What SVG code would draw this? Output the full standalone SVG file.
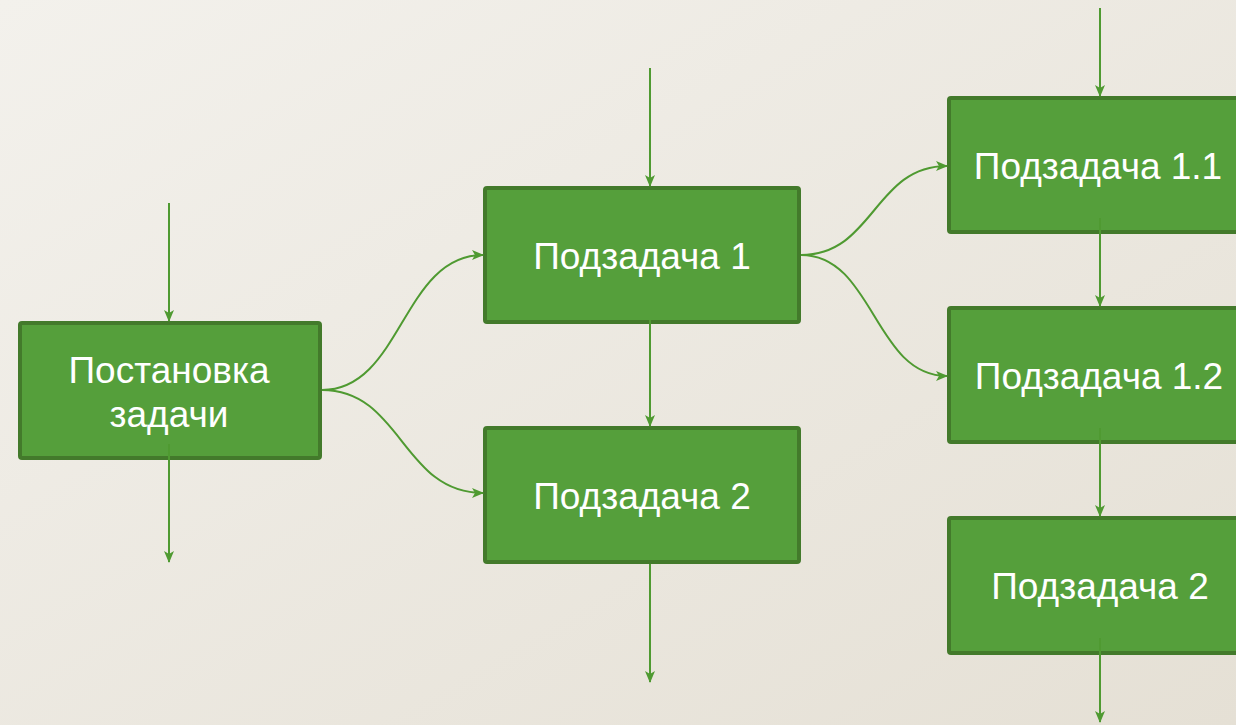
<svg xmlns="http://www.w3.org/2000/svg" width="1236" height="725" viewBox="0 0 1236 725">
<defs>
<linearGradient id="bg" x1="0" y1="0" x2="1" y2="1">
<stop offset="0" stop-color="#f3f1ec"/>
<stop offset="1" stop-color="#e5e0d5"/>
</linearGradient>
<marker id="ah" viewBox="0 0 12 10" refX="11" refY="5" markerWidth="12" markerHeight="10" markerUnits="userSpaceOnUse" orient="auto">
<path d="M0,0 L12,5 L0,10 L3,5 Z" fill="#4f9a31"/>
</marker>
<style>
.box{fill:#559f3b;stroke:#437a2b;stroke-width:4}
.lbl{fill:#ffffff;font-family:"Liberation Sans",Arial,sans-serif;font-size:37px;text-anchor:middle}
.con{fill:none;stroke:#4f9a31;stroke-width:2;marker-end:url(#ah)}
</style>
</defs>
<rect width="1236" height="725" fill="url(#bg)"/>
<g id="n1"><rect class="box" x="20" y="323" width="300" height="135" rx="2"/><text class="lbl" x="169" y="383">Постановка</text><text class="lbl" x="169" y="427">задачи</text></g>
<g id="n2"><rect class="box" x="485" y="188" width="314" height="134" rx="2"/><text class="lbl" x="642" y="269">Подзадача 1</text></g>
<g id="n3"><rect class="box" x="485" y="428" width="314" height="134" rx="2"/><text class="lbl" x="642" y="509">Подзадача 2</text></g>
<g id="n4"><rect class="box" x="949" y="98" width="314" height="134" rx="2"/><text class="lbl" x="1098" y="179">Подзадача 1.1</text></g>
<g id="n5"><rect class="box" x="949" y="308" width="314" height="134" rx="2"/><text class="lbl" x="1099" y="389">Подзадача 1.2</text></g>
<g id="n6"><rect class="box" x="949" y="518" width="314" height="135" rx="2"/><text class="lbl" x="1100" y="599">Подзадача 2</text></g>
<g id="connectors">
<path class="con" d="M169,203 V321"/>
<path class="con" d="M169,444 V562"/>
<path class="con" d="M650,68 V186"/>
<path class="con" d="M650,320 V426"/>
<path class="con" d="M650,564 V682"/>
<path class="con" d="M1100,8 V96"/>
<path class="con" d="M1100,218 V306"/>
<path class="con" d="M1100,428 V516"/>
<path class="con" d="M1100,638 V722"/>
<path class="con" d="M322,390 C402,390 402,255 483,255"/>
<path class="con" d="M322,390 C402,390 402,493 483,493"/>
<path class="con" d="M801,255 C874,255 874,166 947,166"/>
<path class="con" d="M801,255 C874,255 874,376 947,376"/>
</g>
</svg>
